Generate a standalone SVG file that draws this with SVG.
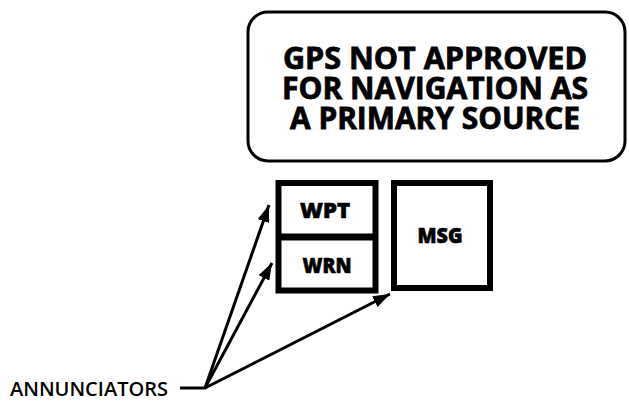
<svg xmlns="http://www.w3.org/2000/svg" width="629" height="401" viewBox="0 0 629 401">
<defs>
<style>
.box{fill:#fff;stroke:#000}
.big{font-family:"Open Sans","Liberation Sans",sans-serif;font-weight:700;font-size:30px;fill:#000;stroke:#000;stroke-width:0.8px;text-anchor:middle}
.lbl{font-family:"Open Sans","Liberation Sans",sans-serif;font-weight:800;font-size:21px;fill:#000;stroke:#000;stroke-width:0.6px;text-anchor:middle}
.ann{font-family:"Open Sans","Liberation Sans",sans-serif;font-weight:600;font-size:20px;fill:#000}
.conn{stroke:#000;stroke-width:3;fill:none}
</style>
<marker id="ah" markerUnits="userSpaceOnUse" markerWidth="18" markerHeight="12" refX="17" refY="6" orient="auto">
<path d="M0,0 L17,6 L0,12 z" fill="#000"/>
</marker>
</defs>
<rect width="629" height="401" fill="#fff"/>
<g id="banner">
<rect class="box" x="248" y="12" width="377" height="149" rx="20" ry="20" stroke-width="3"/>
<text class="big" x="435" y="69" textLength="304" lengthAdjust="spacingAndGlyphs">GPS NOT APPROVED</text>
<text class="big" x="435" y="99" textLength="306" lengthAdjust="spacingAndGlyphs">FOR NAVIGATION AS</text>
<text class="big" x="435" y="129" textLength="290" lengthAdjust="spacingAndGlyphs">A PRIMARY SOURCE</text>
</g>
<g id="wpt-wrn">
<rect class="box" x="278.5" y="183" width="97" height="107.5" stroke-width="6"/>
<line x1="278.5" y1="237" x2="375.5" y2="237" stroke="#000" stroke-width="7"/>
</g>
<g id="wpt">
<text class="lbl" x="325" y="218" textLength="50" lengthAdjust="spacingAndGlyphs">WPT</text>
</g>
<g id="wrn">
<text class="lbl" x="327" y="273" textLength="49" lengthAdjust="spacingAndGlyphs">WRN</text>
</g>
<g id="msg">
<rect class="box" x="394" y="183" width="96" height="105" stroke-width="6"/>
<text class="lbl" x="440" y="243" textLength="45" lengthAdjust="spacingAndGlyphs">MSG</text>
</g>
<g id="annunciators">
<text class="ann" x="10" y="396" textLength="158" lengthAdjust="spacingAndGlyphs">ANNUNCIATORS</text>
</g>
<g id="connectors">
<line class="conn" x1="180" y1="388" x2="206" y2="388"/>
<line class="conn" x1="205" y1="388" x2="269" y2="205" marker-end="url(#ah)"/>
<line class="conn" x1="205" y1="388" x2="272" y2="263" marker-end="url(#ah)"/>
<line class="conn" x1="205" y1="388" x2="390" y2="294" marker-end="url(#ah)"/>
</g>
</svg>
